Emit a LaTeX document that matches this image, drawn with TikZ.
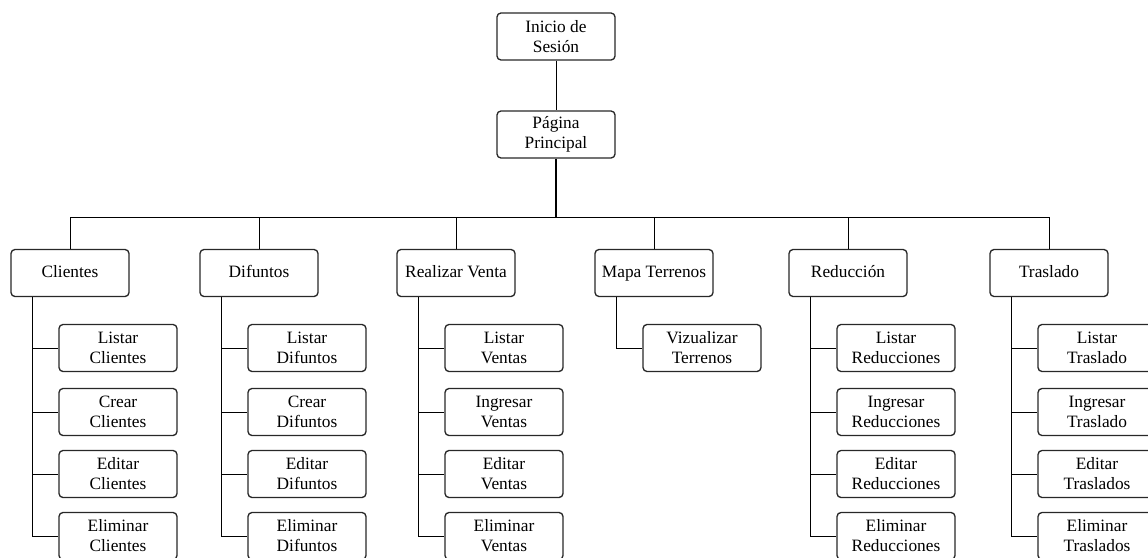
\documentclass[tikz,border=0pt]{standalone}
\usepackage{fontspec}
\setmainfont{Liberation Serif}
\usetikzlibrary{positioning}
\definecolor{boxgray}{RGB}{40,40,40}

\begin{document}
\begin{tikzpicture}[x=0.75pt, y=-0.75pt,
  menubox/.style={draw=boxgray, line width=1pt, rounded corners=3pt, fill=white,
    minimum width=88.5pt, minimum height=35.25pt, align=center, inner sep=1pt,
    font=\fontsize{13}{15}\selectfont},
  link/.style={line width=0.75pt, black}]
  \useasboundingbox (0,0) rectangle (1148,557);
  \clip (0,0) rectangle (1148,557);

  % top of the menu
  \node[menubox] (inicio) at (556,36.5) {Inicio de\\Sesión};
  \node[menubox] (pagina) at (556,134.5) {Página\\Principal};
  \coordinate (bus) at (556,217);
  \draw[link, line width=0.6pt] (inicio) -- (pagina);
  \draw[link, line width=1.3pt] (pagina) -- (bus);

  % main sections
  \foreach \x/\name/\label in {70/cli/Clientes, 259/dif/Difuntos, 456/ven/Realizar Venta,
      654/map/Mapa Terrenos, 848/red/Reducción, 1049/tra/Traslado} {
    \node[menubox, text height=9pt, text depth=3pt] (\name) at (\x,273) {\label};
    \draw[link] (bus) -| (\name.north);
  }

  % sub pages
  \foreach \y/\txt [count=\i] in {348/Listar\\Clientes, 412/Crear\\Clientes,
      474/Editar\\Clientes, 536/Eliminar\\Clientes} {
    \node[menubox] (cli\i) at (118,\y) {\txt};
    \draw[link] ([xshift=16.5pt]cli.south west) |- (cli\i.west);
  }
  \foreach \y/\txt [count=\i] in {348/Listar\\Difuntos, 412/Crear\\Difuntos,
      474/Editar\\Difuntos, 536/Eliminar\\Difuntos} {
    \node[menubox] (dif\i) at (307,\y) {\txt};
    \draw[link] ([xshift=16.5pt]dif.south west) |- (dif\i.west);
  }
  \foreach \y/\txt [count=\i] in {348/Listar\\Ventas, 412/Ingresar\\Ventas,
      474/Editar\\Ventas, 536/Eliminar\\Ventas} {
    \node[menubox] (ven\i) at (504,\y) {\txt};
    \draw[link] ([xshift=16.5pt]ven.south west) |- (ven\i.west);
  }
  \node[menubox] (map1) at (702,348) {Vizualizar\\Terrenos};
  \draw[link] ([xshift=16.5pt]map.south west) |- (map1.west);
  \foreach \y/\txt [count=\i] in {348/Listar\\Reducciones, 412/Ingresar\\Reducciones,
      474/Editar\\Reducciones, 536/Eliminar\\Reducciones} {
    \node[menubox] (red\i) at (896,\y) {\txt};
    \draw[link] ([xshift=16.5pt]red.south west) |- (red\i.west);
  }
  \foreach \y/\txt [count=\i] in {348/Listar\\Traslado, 412/Ingresar\\Traslado,
      474/Editar\\Traslados, 536/Eliminar\\Traslados} {
    \node[menubox] (tra\i) at (1097,\y) {\txt};
    \draw[link] ([xshift=16.5pt]tra.south west) |- (tra\i.west);
  }
\end{tikzpicture}
\end{document}
